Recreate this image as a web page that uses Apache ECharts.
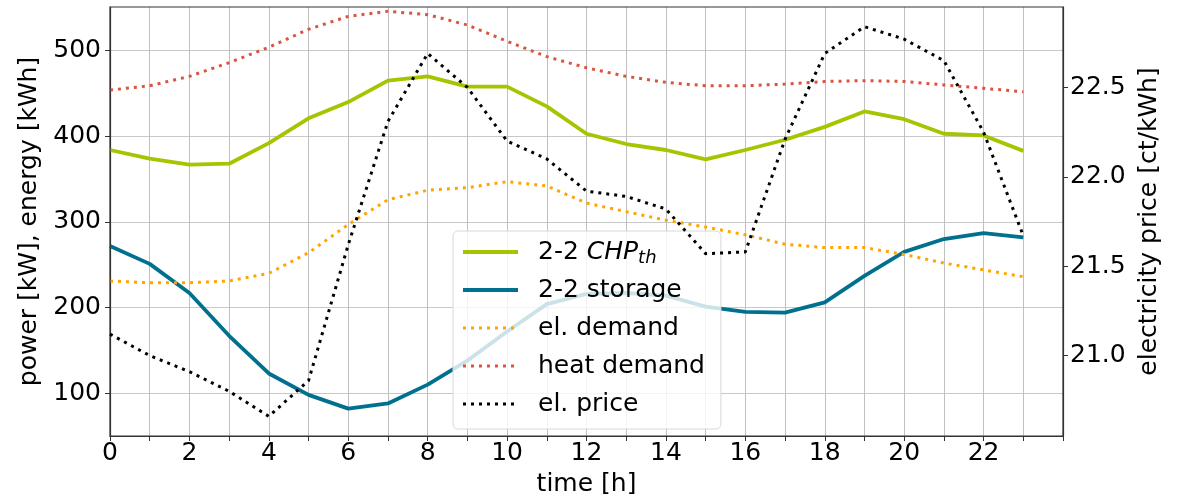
<!DOCTYPE html>
<html>
<head>
<meta charset="utf-8">
<script src="https://cdn.jsdelivr.net/npm/echarts@6/dist/echarts.min.js"></script>
<style>
html,body{margin:0;padding:0;background:#fff;}
#c{width:1179px;height:502px;}
</style>
</head>
<body>
<div id="c"></div>
<script>
var hours = [0,1,2,3,4,5,6,7,8,9,10,11,12,13,14,15,16,17,18,19,20,21,22,23];
var chpTh = [384,374,367,368,392,421,440,465,470,458,458,435,403,391,384,373,384,396,411,429,420,403,401,383];
var storage = [272,251,217,167,123,98,82,88,110,138,172,204,216,217,214,201,195,194,206,237,265,280,287,282];
var elDemand = [231,229,229,231,240,264,297,326,337,340,347,342,322,312,302,294,285,274,270,270,262,252,244,236];
var heatDemand = [454,459,470,486,504,525,540,546,542,530,511,493,480,470,463,459,459,461,464,465,464,460,456,452];
var elPrice = [21.12,21.00,20.91,20.80,20.66,20.86,21.62,22.31,22.69,22.50,22.20,22.10,21.92,21.89,21.82,21.57,21.58,22.21,22.69,22.84,22.77,22.65,22.25,21.67];
var leftTicks = [100,200,300,400,500];
var rightTicks = [21.0,21.5,22.0,22.5];
var xTickLabels = [0,2,4,6,8,10,12,14,16,18,20,22];

function pairs(v){ return hours.map(function(h,i){ return [h, v[i]]; }); }

var FONT = 'DejaVu Sans';
var C_CHP = '#a8c300', C_STO = '#00708f', C_EL = '#ffa500', C_HEAT = '#d9553f', C_PRICE = '#000';
var chart = echarts.init(document.getElementById('c'), null, {renderer:'canvas'});
var dot = [3,5];
chart.setOption({
  animation: false,
  textStyle: {fontFamily: FONT},
  grid: {left:110, right:116, top:7, bottom:61, show:true, borderColor:'#333', borderWidth:1.2, backgroundColor:'transparent', z:3},
  xAxis: {
    type:'value', min:0, max:24, interval:1,
    name:'time [h]', nameLocation:'middle', nameGap:36,
    nameTextStyle:{fontSize:25, color:'#000', fontFamily:FONT},
    axisLine:{show:true, lineStyle:{color:'#333', width:1.2}},
    axisTick:{show:true, inside:false, length:5, lineStyle:{color:'#333'}},
    axisLabel:{fontSize:25, color:'#000', margin:5, fontFamily:FONT,
      formatter:function(v){ return xTickLabels.indexOf(v) >= 0 ? String(v) : ''; }},
    splitLine:{show:true, lineStyle:{color:'#c0c0c0', width:1}}
  },
  yAxis: [{
    type:'value', min:50, max:551,
    name:'power [kW], energy [kWh]', nameLocation:'middle', nameGap:62, nameRotate:90,
    nameTextStyle:{fontSize:25, color:'#000', fontFamily:FONT},
    axisLine:{show:true, lineStyle:{color:'#333', width:1.2}},
    axisTick:{show:true, length:5, customValues:leftTicks, lineStyle:{color:'#333'}},
    axisLabel:{fontSize:25, color:'#000', margin:9, customValues:leftTicks, fontFamily:FONT},
    splitLine:{show:true, customValues:leftTicks, lineStyle:{color:'#c8c8c8', width:1}}
  },{
    type:'value', min:20.55, max:22.95, position:'right',
    name:'electricity price [ct/kWh]', nameLocation:'middle', nameGap:68, nameRotate:90,
    nameTextStyle:{fontSize:25, color:'#000', fontFamily:FONT},
    axisLine:{show:true, lineStyle:{color:'#333', width:1.2}},
    axisTick:{show:true, length:5, customValues:rightTicks, lineStyle:{color:'#333'}},
    axisLabel:{fontSize:25, color:'#000', margin:7, customValues:rightTicks, fontFamily:FONT,
      formatter:function(v){ return Number(v).toFixed(1); }},
    splitLine:{show:false}
  }],
  legend: {
    orient:'vertical', left:453, top:231,
    backgroundColor:'rgba(255,255,255,0.8)', borderColor:'#d8d8d8', borderWidth:1, borderRadius:5,
    padding:[6,16,10,8], itemGap:8, itemWidth:55, itemHeight:14,
    itemStyle:{opacity:0},
    data:[
      {name:'CHP', itemStyle:{opacity:0}, lineStyle:{color:C_CHP, width:4, type:'solid'}},
      {name:'storage', itemStyle:{opacity:0}, lineStyle:{color:C_STO, width:4, type:'solid'}},
      {name:'el. demand', itemStyle:{opacity:0}, lineStyle:{color:C_EL, width:3, type:dot}},
      {name:'heat demand', itemStyle:{opacity:0}, lineStyle:{color:C_HEAT, width:3, type:dot}},
      {name:'el. price', itemStyle:{opacity:0}, lineStyle:{color:C_PRICE, width:3, type:dot}}
    ],
    formatter:function(n){
      if(n==='CHP') return '2-2 {i|CHP}{s|th}';
      if(n==='storage') return '2-2 storage';
      return n;
    },
    textStyle:{fontSize:25, color:'#000', fontFamily:FONT, lineHeight:30, padding:[0,0,0,15],
      rich:{
        i:{fontSize:25, fontStyle:'italic', fontFamily:FONT, color:'#000'},
        s:{fontSize:18, fontStyle:'italic', fontFamily:FONT, color:'#000', verticalAlign:'bottom', padding:[8,0,0,0]}
      }}
  },
  series: [
    {name:'CHP', type:'line', yAxisIndex:0, data:pairs(chpTh), symbol:'none', z:2,
      lineStyle:{color:C_CHP, width:3.8, join:'round'}, itemStyle:{color:C_CHP}},
    {name:'storage', type:'line', yAxisIndex:0, data:pairs(storage), symbol:'none', z:2,
      lineStyle:{color:C_STO, width:3.8, join:'round'}, itemStyle:{color:C_STO}},
    {name:'el. demand', type:'line', yAxisIndex:0, data:pairs(elDemand), symbol:'none', z:2,
      lineStyle:{color:C_EL, width:3, type:dot}, itemStyle:{color:C_EL}},
    {name:'heat demand', type:'line', yAxisIndex:0, data:pairs(heatDemand), symbol:'none', z:2,
      lineStyle:{color:C_HEAT, width:3, type:dot}, itemStyle:{color:C_HEAT}},
    {name:'el. price', type:'line', yAxisIndex:1, data:pairs(elPrice), symbol:'none', z:5,
      lineStyle:{color:C_PRICE, width:3, type:dot}, itemStyle:{color:C_PRICE}}
  ]
});
</script>
</body>
</html>
